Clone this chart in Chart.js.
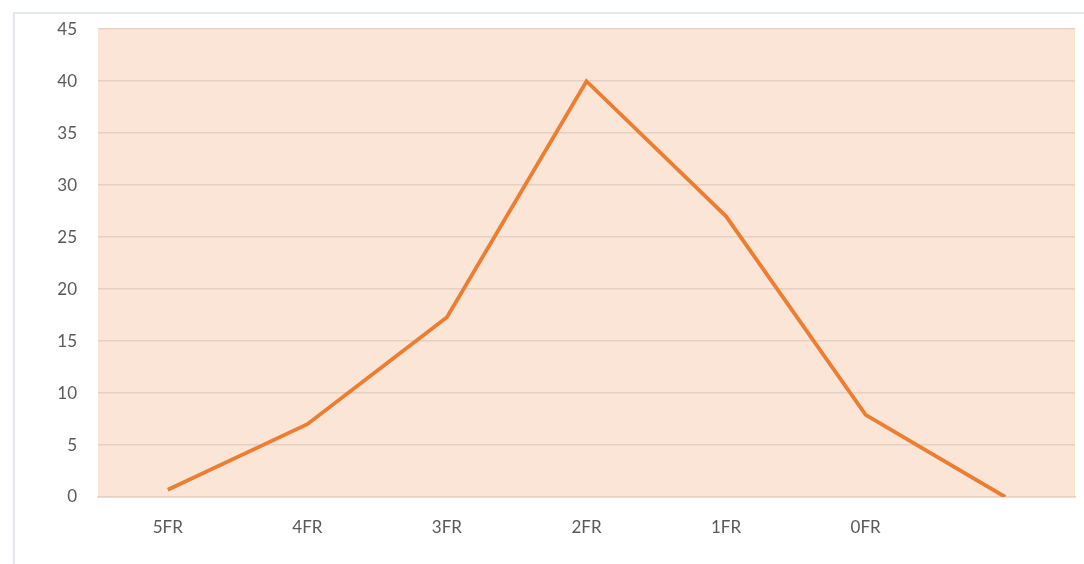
<!DOCTYPE html>
<html>
<head>
<meta charset="utf-8">
<script src="https://cdn.jsdelivr.net/npm/chart.js@4.4.0/dist/chart.umd.min.js"></script>
<style>
  html, body { margin: 0; padding: 0; background: #ffffff; overflow: hidden; }
  body { width: 1084px; height: 564px; position: relative; }
  #frame {
    position: absolute; left: 13px; top: 12px;
    width: 1100px; height: 600px;
    border: 2px solid #e4e8ee; box-sizing: border-box;
  }
  #wrap { position: absolute; left: 15px; top: -2px; width: 1069px; height: 566px; }
</style>
</head>
<body>
<div id="frame"></div>
<div id="wrap"><canvas id="frChart"></canvas></div>
<script>
// categories and series
const categories = ["5FR", "4FR", "3FR", "2FR", "1FR", "0FR", ""];
const values = [0.7, 7, 17.3, 40, 27, 7.9, 0];
const yTicks = [0, 5, 10, 15, 20, 25, 30, 35, 40, 45];

const colors = {
  line: "#ED7D31",
  plotBg: "#FBE5D6",
  grid: "#E6D0C1",
  text: "#595959",
};

// fill the plot area with the peach background
const plotBackground = {
  id: "plotBackground",
  beforeDraw(chart) {
    const { ctx, chartArea } = chart;
    ctx.save();
    ctx.fillStyle = colors.plotBg;
    ctx.fillRect(chartArea.left, chartArea.top, chartArea.right - chartArea.left, chartArea.bottom - chartArea.top);
    ctx.restore();
  },
};

const ctx = document.getElementById("frChart").getContext("2d");
new Chart(ctx, {
  type: "line",
  data: {
    labels: categories,
    datasets: [
      {
        data: values,
        borderColor: colors.line,
        borderWidth: 3.8,
        pointRadius: 0,
        tension: 0,
        fill: false,
      },
    ],
  },
  options: {
    responsive: true,
    maintainAspectRatio: false,
    animation: false,
    layout: { padding: { left: 0, right: 9, top: 0, bottom: 0 } },
    scales: {
      x: {
        offset: true,
        grid: { display: false, drawTicks: false },
        border: { display: true, color: colors.grid, width: 1.5 },
        ticks: {
          color: colors.text,
          font: { family: "Lato, 'Open Sans', sans-serif", size: 17 },
          padding: 20,
          maxRotation: 0,
          autoSkip: false,
        },
        afterFit: (scale) => { scale.height = 67; },
      },
      y: {
        min: 0,
        max: 45,
        afterBuildTicks: (scale) => { scale.ticks = yTicks.map((v) => ({ value: v })); },
        grid: { color: colors.grid, lineWidth: 1.5, drawTicks: false },
        border: { display: false },
        ticks: {
          color: colors.text,
          font: { family: "Lato, 'Open Sans', sans-serif", size: 17 },
          padding: 21,
        },
        afterFit: (scale) => { scale.width = 83; },
      },
    },
    plugins: {
      legend: { display: false },
      tooltip: { enabled: false },
    },
  },
  plugins: [plotBackground],
});
</script>
</body>
</html>
